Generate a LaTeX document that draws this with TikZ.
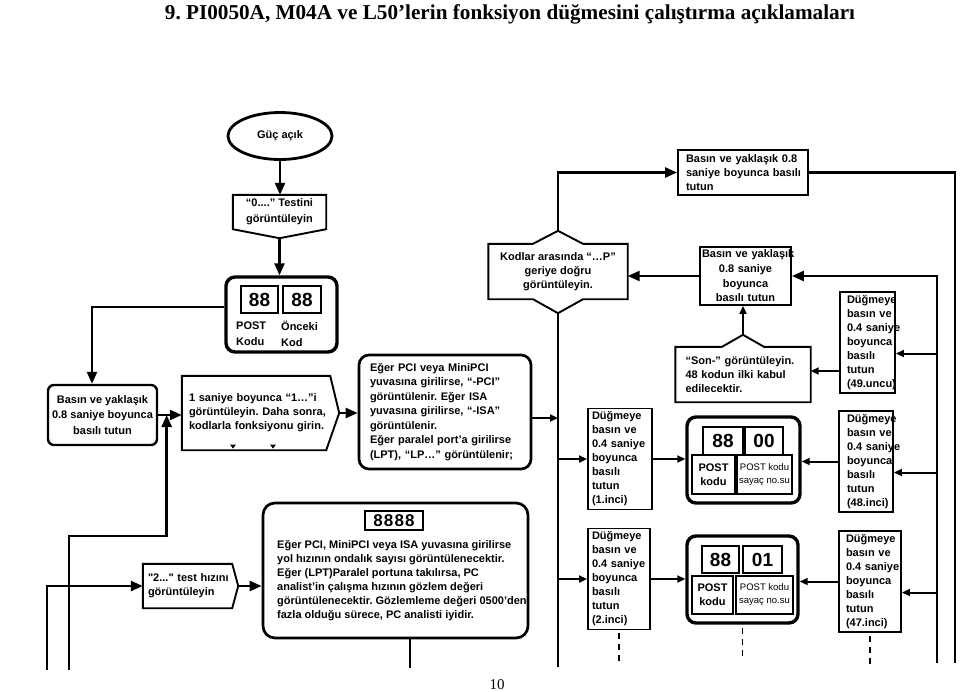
\documentclass[tikz,border=0pt]{standalone}
\usepackage{fontspec}
\setmainfont{Liberation Serif}
\setsansfont{Liberation Sans}[Ligatures=TeXOff]
\usetikzlibrary{shapes.geometric, arrows.meta, calc}
\frenchspacing
\hyphenpenalty=10000
\exhyphenpenalty=10000
\newcommand{\flowfont}{\sffamily\bfseries\fontsize{11}{14}\selectfont}
\tikzset{
  % Box styles
  ovalbox/.style={ellipse, draw, line width=2.8pt, minimum width=104pt, minimum height=47pt, inner sep=0pt, font=\flowfont},
  shapeonly/.style={rectangle, draw=none, inner sep=0pt, font=\flowfont},
  plainbox/.style={rectangle, draw, line width=1.9pt, inner ysep=0pt, align=left, font=\flowfont},
  roundbox/.style={rectangle, rounded corners=6pt, draw, line width=2.4pt, inner sep=0pt, font=\flowfont},
  pressbox/.style={rectangle, draw, line width=1.9pt, inner ysep=0pt, minimum height=101pt, align=left, font=\flowfont},
  displaybox/.style={rectangle, rounded corners=9pt, draw, line width=3.4pt},
  digitbox/.style={rectangle, draw, line width=1.8pt, inner sep=0pt, font=\sffamily\bfseries\fontsize{19}{19}\selectfont},
  labelbox/.style={rectangle, draw, line width=1.2pt, inner sep=0pt, align=center, font=\flowfont},
  textonly/.style={inner sep=0pt, align=left, font=\flowfont},
  % Line styles
  boxline/.style={line width=1.9pt, line join=miter},
  flowline/.style={line width=2.5pt},
  arrow/.style={-{Triangle[length=12pt, width=10pt]}, line width=2.5pt},
  smallarrow/.style={-{Triangle[length=8pt, width=7pt]}, line width=2pt},
  dashline/.style={line width=1.5pt, dash pattern=on 6pt off 5pt}
}

\begin{document}
\begin{tikzpicture}[x=1pt, y=-1pt]
  \useasboundingbox[fill=white] (0,0) rectangle (960,691);

  % Title and page number
  \node[font=\rmfamily\bfseries\fontsize{21.2}{24}\selectfont, anchor=base] (title) at (510,19) {9. PI0050A, M04A ve L50’lerin fonksiyon düğmesini çalıştırma açıklamaları};
  \node[font=\rmfamily\fontsize{15}{15}\selectfont, anchor=base, inner sep=0pt] (pagenum) at (497,689) {10};

  % Start
  \node[ovalbox] (power) at (280,136) {Güç açık};
  \node[shapeonly, minimum width=93pt, minimum height=34pt, align=center, font=\sffamily\bfseries\fontsize{11}{16}\selectfont] (test0) at (279.5,212) {“0....” Testini\\görüntüleyin};
  \coordinate (test0tip) at ($(test0.south)+(0,9)$);
  \draw[boxline] (test0.north west) -- (test0.north east) -- (test0.south east) -- (test0tip) -- (test0.south west) -- cycle;
  \draw[arrow] (power.south) -- (power.south |- test0.north);

  % First display
  \node[displaybox, minimum width=111pt, minimum height=75pt] (disp1) at (281.5,314.5) {};
  \node[digitbox, minimum width=37pt, minimum height=27pt] (post1) at (259.5,299.5) {88};
  \node[digitbox, minimum width=38pt, minimum height=27pt] (prev1) at (302,299.5) {88};
  \node[textonly, anchor=west, font=\sffamily\bfseries\fontsize{11}{16}\selectfont] (post1lbl) at (236,334) {POST\\Kodu};
  \node[textonly, anchor=west, font=\sffamily\bfseries\fontsize{11}{16}\selectfont] (prev1lbl) at (281,334) {Önceki\\Kod};
  \draw[arrow] (test0tip) -- (test0tip |- disp1.north);

  % Left branch
  \node[roundbox, minimum width=109pt, minimum height=60pt, align=center, font=\sffamily\bfseries\fontsize{11}{15.5}\selectfont] (hold1) at (102.5,415) {Basın ve yaklaşık\\0.8 saniye boyunca\\basılı tutun};
  \draw[arrow] ([yshift=7.5pt]disp1.west) -| ([xshift=-10.5pt]hold1.north);

  \node[shapeonly, minimum width=148pt, minimum height=74pt, inner xsep=7pt, text width=134pt, align=left] (one) at (256,413) {1~saniye~boyunca~“1…”i\\görüntüleyin.~Daha~sonra,\\kodlarla~fonksiyonu~girin.};
  \coordinate (onetip) at ($(one.east)+(9,0)$);
  \draw[boxline] (one.north west) -- (one.north east) -- (onetip) -- ([xshift=-4pt]one.south east) -- (one.south west) -- cycle;
  \foreach \mx in {233,273}
    \fill (\mx-3,444.5) -- (\mx+3,444.5) -- (\mx,448.5) -- cycle;
  \draw[arrow] (hold1.east) -- (hold1.east -| one.west);
  \coordinate (join1) at ($(hold1.east)!0.36!(hold1.east -| one.west)$);

  % Bus system speed
  \node[shapeonly, minimum width=89pt, minimum height=44pt, inner xsep=5pt, text width=79pt, align=left] (test2) at (187.5,586) {"2..."~test~hızını\\görüntüleyin};
  \coordinate (test2tip) at ($(test2.east)+(6,0)$);
  \draw[boxline] (test2.north west) -- (test2.north east) -- (test2tip) -- (test2.south east) -- (test2.south west) -- cycle;

  \node[roundbox, rounded corners=12pt, line width=2.7pt, minimum width=265pt, minimum height=135pt] (speed) at (395.5,570.5) {};
  \node[digitbox, minimum width=58pt, minimum height=19pt, font=\sffamily\bfseries\fontsize{17}{17}\selectfont] (speeddigits) at (394,520.5) {8\kern1.2pt8\kern1.2pt8\kern1.2pt8};
  \node[textonly, anchor=north west] (speedtext) at (277,540) {Eğer PCI, MiniPCI veya ISA yuvasına girilirse\\yol hızının ondalık sayısı görüntülenecektir.\\Eğer (LPT)Paralel portuna takılırsa, PC\\analist’in çalışma hızının gözlem değeri\\görüntülenecektir. Gözlemleme değeri 0500’den\\fazla olduğu sürece, PC analisti iyidir.};
  \draw[arrow] (test2tip) -- (test2tip -| speed.west);
  \draw[flowline] ([xshift=14.5pt]speed.south) -- ++(0,29);

  \coordinate (feedA) at (69,670);
  \coordinate (feedB) at (47,670);
  \draw[arrow] (feedA) |- ([yshift=-121pt]join1) -- (join1);
  \draw[arrow] (feedB) |- (test2.west);

  % Card type
  \node[roundbox, rounded corners=10pt, line width=2.7pt, minimum width=172pt, minimum height=114pt, inner xsep=11pt, text width=150pt, align=left, font=\sffamily\bfseries\fontsize{11}{14.5}\selectfont] (pci) at (445,412) {Eğer PCI veya MiniPCI\\yuvasına girilirse, “-PCI”\\görüntülenir. Eğer ISA\\yuvasına girilirse, “-ISA”\\görüntülenir.\\Eğer paralel port’a girilirse\\(LPT), “LP…” görüntülenir;};
  \draw[arrow] (onetip) -- (onetip -| pci.west);

  % Backward codes
  \node[shapeonly, minimum width=139pt, minimum height=55pt, align=center] (kodlar) at (558,271.5) {Kodlar arasında “…P”\\geriye doğru\\görüntüleyin.};
  \coordinate (kodlartop) at ($(kodlar.north)+(0,-13)$);
  \coordinate (kodlarbot) at ($(kodlar.south)+(0,14)$);
  \draw[boxline] (kodlar.north west) -- ($(kodlar.north)+(-25,0)$) -- (kodlartop) -- ($(kodlar.north)+(25,0)$) -- (kodlar.north east) -- (kodlar.south east) -- ($(kodlar.south)+(25,0)$) -- (kodlarbot) -- ($(kodlar.south)+(-25,0)$) -- (kodlar.south west) -- cycle;
  \coordinate (spineend) at ($(kodlarbot)+(0,354)$);
  \draw[flowline] (kodlarbot) -- (spineend);
  \coordinate (pciout) at ([yshift=-6pt]pci.east);
  \draw[smallarrow] (pciout) -- (pciout -| kodlarbot);

  % Top loop
  \node[plainbox, minimum height=45pt, inner xsep=8pt, text width=114pt] (topbox) at (743,172.5) {Basın~ve~yaklaşık~0.8\\saniye~boyunca~basılı\\tutun};
  \draw[arrow] (kodlartop) |- (topbox.west);
  \coordinate (outerend) at (955,663);
  \draw[flowline] (topbox.east) -| (outerend);

  \node[plainbox, minimum height=58pt, inner xsep=2pt, text width=87pt, align=center, font=\sffamily\bfseries\fontsize{11}{14.7}\selectfont] (midbox) at (745.5,276) {Basın~ve~yaklaşık\\0.8 saniye\\boyunca\\basılı tutun};
  \draw[arrow] (midbox.west) -- (midbox.west -| kodlar.east);
  \coordinate (innerend) at (937,663);
  \draw[arrow] (innerend) |- (midbox.east);

  \node[shapeonly, minimum width=135pt, minimum height=55pt, inner xsep=10pt, text width=115pt, align=left] (son) at (743,374.5) {“Son-”~görüntüleyin.\\48 kodun ilki kabul\\edilecektir.};
  \coordinate (sontop) at ($(son.north)+(0,-12)$);
  \draw[boxline] (son.north west) -- ($(son.north)+(-21,0)$) -- (sontop) -- ($(son.north)+(21,0)$) -- (son.north east) -- (son.south east) -- (son.south west) -- cycle;
  \draw[smallarrow] (sontop) -- (sontop |- midbox.south);

  % Press boxes
  \node[pressbox, inner xsep=7pt, text width=41pt] (b49) at (867.5,342.5) {Düğmeye\\basın~ve\\0.4~saniye\\boyunca\\basılı\\tutun\\(49.uncu)};
  \node[pressbox, inner xsep=8pt, text width=38pt] (b48) at (866,461.5) {Düğmeye\\basın~ve\\0.4~saniye\\boyunca\\basılı\\tutun\\(48.inci)};
  \node[pressbox, inner xsep=7pt, text width=48pt] (b47) at (870,581.5) {Düğmeye\\basın~ve\\0.4~saniye\\boyunca\\basılı\\tutun\\(47.inci)};
  \node[pressbox, inner xsep=4pt, text width=56pt] (b1) at (620,459) {Düğmeye\\basın~ve\\0.4~saniye\\boyunca\\basılı\\tutun\\(1.inci)};
  \node[pressbox, inner xsep=4pt, text width=54pt] (b2) at (619,579) {Düğmeye\\basın~ve\\0.4~saniye\\boyunca\\basılı\\tutun\\(2.inci)};

  % Counter displays
  \node[displaybox, minimum width=113pt, minimum height=86pt] (disp2) at (743.5,460) {};
  \node[digitbox, minimum width=40pt, minimum height=28pt] (post2) at (723,441) {88};
  \node[digitbox, minimum width=38pt, minimum height=28pt] (count2) at (764,441) {00};
  \node[labelbox, minimum width=43pt, minimum height=39pt] (post2lbl) at (713.5,474.5) {POST\\kodu};
  \node[labelbox, minimum width=55pt, minimum height=39pt, font=\sffamily\fontsize{9.5}{13}\selectfont] (count2lbl) at (764.5,474.5) {POST kodu\\sayaç no.su};

  \node[displaybox, minimum width=111pt, minimum height=87pt] (disp3) at (742.5,579.5) {};
  \node[digitbox, minimum width=37pt, minimum height=27pt] (post3) at (720.5,559.5) {88};
  \node[digitbox, minimum width=39pt, minimum height=27pt] (count3) at (762.5,559.5) {01};
  \node[labelbox, minimum width=41pt, minimum height=38pt] (post3lbl) at (712.5,595) {POST\\kodu};
  \node[labelbox, minimum width=57pt, minimum height=38pt, font=\sffamily\fontsize{9.5}{13}\selectfont] (count3lbl) at (764.5,595) {POST kodu\\sayaç no.su};

  % Counter arrows
  \foreach \b in {b49,b48,b47} {
    \coordinate (\b in) at ([yshift=-11pt]\b.east);
    \draw[smallarrow] (\b in -| innerend) -- (\b in);
  }
  \coordinate (b49out) at ([yshift=-28.5pt]b49.west);
  \draw[smallarrow] (b49out) -- (b49out -| son.east);
  \draw[smallarrow] (b48.west) -- (b48.west -| disp2.east);
  \draw[smallarrow] (b47.west) -- (b47.west -| disp3.east);
  \draw[smallarrow] (b1.west -| kodlarbot) -- (b1.west);
  \draw[smallarrow] (b1.east) -- (b1.east -| disp2.west);
  \draw[smallarrow] (b2.west -| kodlarbot) -- (b2.west);
  \draw[smallarrow] (b2.east) -- (b2.east -| disp3.west);

  % Continuation
  \foreach \n in {b2,disp3,b47}
    \draw[dashline] ([yshift=-3pt]\n.south) -- ++(0,30);
\end{tikzpicture}
\end{document}
